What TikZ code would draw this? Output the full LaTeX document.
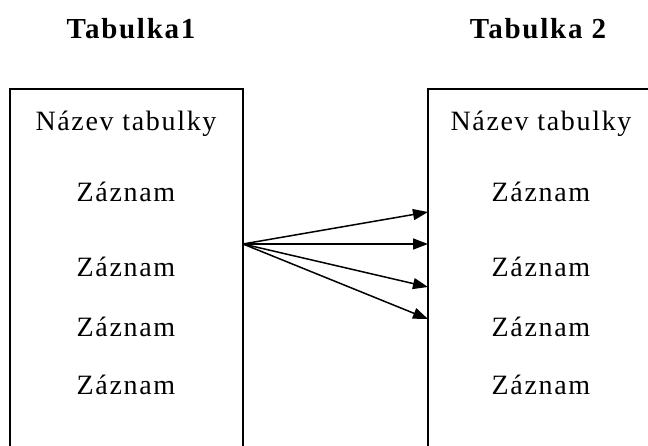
\documentclass[tikz,border=0pt]{standalone}
\usepackage{fontspec}
\setmainfont{Liberation Serif}
\usepackage{tikz}
\usetikzlibrary{arrows.meta}

\begin{document}
\begin{tikzpicture}[x=1pt, y=-1pt]
    % Styles
    \tikzstyle{table} = [draw=black, line width=1.5pt]
    \tikzstyle{title} = [font=\fontsize{29}{30}\selectfont\bfseries\addfontfeature{LetterSpace=6}, inner sep=0pt]
    \tikzstyle{entry} = [font=\fontsize{28}{30}\selectfont\addfontfeature{LetterSpace=6}, inner sep=0pt]
    \tikzstyle{arrow} = [line width=1.5pt, -{Triangle[length=15pt, width=11pt]}]

    \useasboundingbox (0,0) rectangle (648,446);
    \clip (0,0) rectangle (648,446);

    % Tables
    \draw[table] (10,89) rectangle (243,470);
    \draw[table] (428,89) rectangle (670,470);

    % Titles
    \node[title] (T1) at (131,29) {Tabulka1};
    \node[title] (T2) at (538,29) {Tabulka 2};

    % Rows of the first table
    \node[entry] (N1) at (126,124) {Název tabulky};
    \node[entry] (A1) at (126,192) {Záznam};
    \node[entry] (A2) at (126,267) {Záznam};
    \node[entry] (A3) at (126,327) {Záznam};
    \node[entry] (A4) at (126,385) {Záznam};

    % Rows of the second table
    \node[entry] (N2) at (541,124) {Název tabulky};
    \node[entry] (B1) at (541,192) {Záznam};
    \node[entry] (B2) at (541,267) {Záznam};
    \node[entry] (B3) at (541,327) {Záznam};
    \node[entry] (B4) at (541,385) {Záznam};

    % Links
    \coordinate (src) at (243,244);
    \coordinate (d1) at (428,212);
    \coordinate (d2) at (428,244);
    \coordinate (d3) at (428,287);
    \coordinate (d4) at (428,319);
    \foreach \d in {d1,d2,d3,d4}
        \draw[arrow] (src) -- (\d);
\end{tikzpicture}
\end{document}
